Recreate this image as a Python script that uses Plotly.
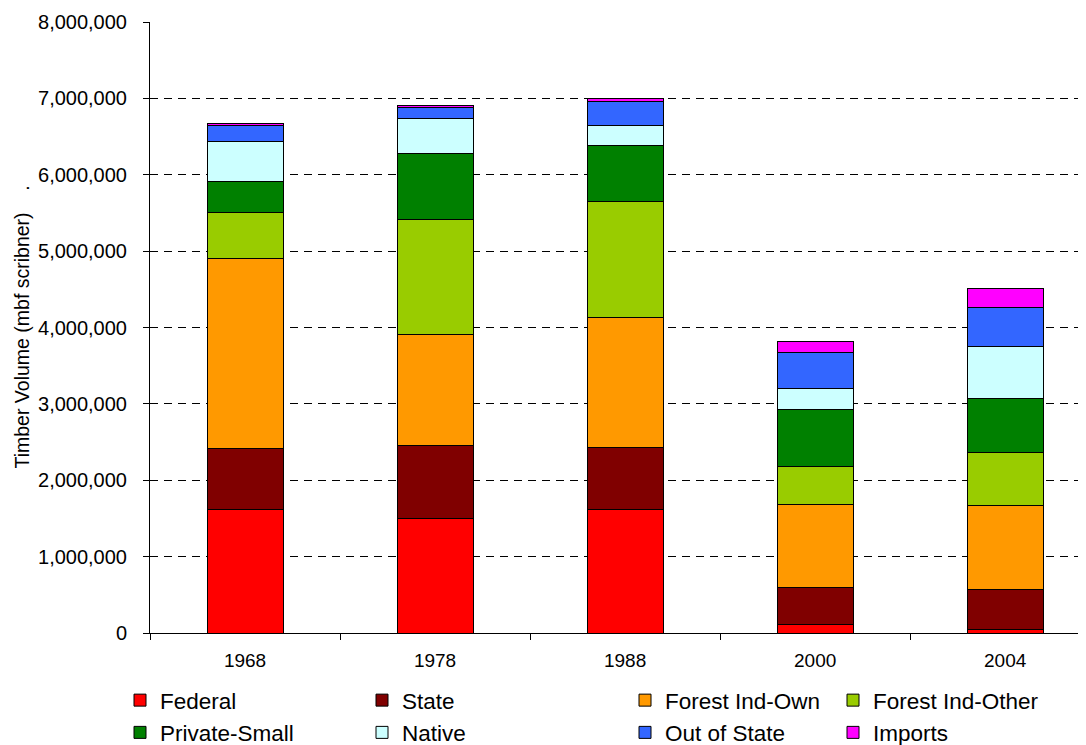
import plotly.graph_objects as go

years = ["1968", "1978", "1988", "2000", "2004"]
series_names = ["Federal", "State", "Forest Ind-Own", "Forest Ind-Other",
                "Private-Small", "Native", "Out of State", "Imports"]
federal = [1612000, 1494000, 1616000, 109000, 43000]
state = [803000, 961000, 813000, 485000, 529000]
forest_ind_own = [2485000, 1450000, 1707000, 1083000, 1096000]
forest_ind_other = [605000, 1508000, 1513000, 499000, 695000]
private_small = [401000, 869000, 729000, 751000, 712000]
native = [534000, 458000, 267000, 279000, 673000]
out_of_state = [209000, 136000, 315000, 464000, 512000]
imports = [26000, 34000, 34000, 148000, 249000]
y_ticks = [0, 1000000, 2000000, 3000000, 4000000, 5000000, 6000000, 7000000, 8000000]
grid_ticks = [1000000, 2000000, 3000000, 4000000, 5000000, 6000000, 7000000]
y_title = "Timber Volume (mbf scribner)\u00a0\u00a0\u00a0\u00a0."

values = [federal, state, forest_ind_own, forest_ind_other,
          private_small, native, out_of_state, imports]
colors = ["#FF0000", "#800000", "#FF9900", "#99CC00",
          "#008000", "#CCFFFF", "#3366FF", "#FF00FF"]
# legend columns (Excel-like 2-row legend, 4 irregular columns)
legend_of = ["legend", "legend2", "legend3", "legend4",
             "legend", "legend2", "legend3", "legend4"]

FONT = "Liberation Sans, Arial, sans-serif"
W, H = 1078, 737  # page body has an 8px margin
ML, MT, MB = 142, 14, 112
plot_w = W - ML - 1

fig = go.Figure()
for name, vals, col, lg in zip(series_names, values, colors, legend_of):
    fig.add_trace(go.Bar(
        name=name, x=years, y=vals,
        marker=dict(color=col, line=dict(color="#000000", width=1)),
        legend=lg,
    ))

legend_common = dict(
    orientation="v", traceorder="normal", font=dict(family=FONT, size=22.5, color="#000"),
    bgcolor="rgba(0,0,0,0)", xref="container", yref="container",
    yanchor="top", xanchor="left", y=1 - 671 / H, tracegroupgap=0,
)
leg_x = [112, 354, 617, 825]

fig.update_layout(
    width=W, height=H,
    barmode="stack", bargap=0.6,
    plot_bgcolor="#FFFFFF", paper_bgcolor="#FFFFFF",
    margin=dict(l=ML, r=1, t=MT, b=MB, autoexpand=False),
    font=dict(family=FONT, size=20, color="#000000"),
    xaxis=dict(
        type="category", range=[-0.5, 4.42],
        showline=True, linecolor="#000000", linewidth=1,
        ticks="outside", tickson="boundaries", ticklen=6, tickcolor="#000000",
        showgrid=False, tickfont=dict(size=19, family=FONT), tickangle=0,
        ticklabelstandoff=10, automargin=False,
    ),
    yaxis=dict(
        range=[0, 8000000], tickvals=y_ticks, tickformat=",d",
        ticklabelstandoff=12,
        showline=True, linecolor="#000000", linewidth=1,
        ticks="outside", ticklen=6, tickcolor="#000000",
        showgrid=False, zeroline=False, tickfont=dict(size=20, family=FONT),
        minor=dict(tickvals=grid_ticks, showgrid=True, gridcolor="#000000",
                   gridwidth=1, griddash="8px,6px", ticks=""),
        automargin=False,
    ),
    annotations=[dict(
        text=y_title, textangle=-90, showarrow=False,
        xref="paper", yref="paper", x=(13 - ML) / plot_w, y=0.5,
        xanchor="center", yanchor="middle",
        font=dict(size=19.5, family=FONT, color="#000000"),
    )],
    legend=dict(legend_common, x=leg_x[0] / W),
    legend2=dict(legend_common, x=leg_x[1] / W),
    legend3=dict(legend_common, x=leg_x[2] / W),
    legend4=dict(legend_common, x=leg_x[3] / W),
)

fig.write_html("out.html")
